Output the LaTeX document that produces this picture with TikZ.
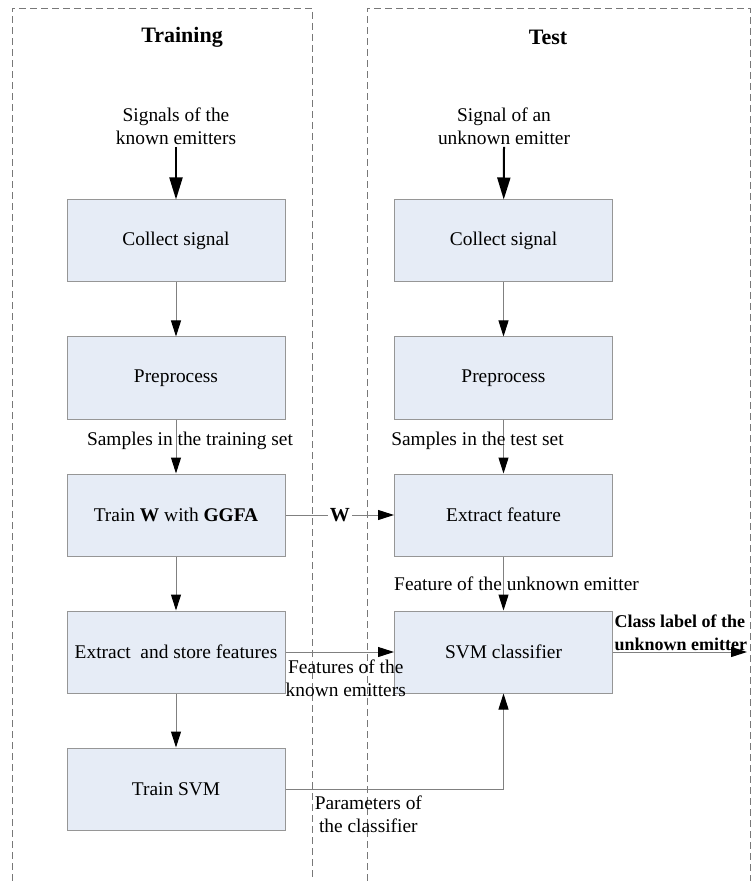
\documentclass[tikz,border=0pt]{standalone}
\usepackage{fontspec}
\setmainfont{Liberation Serif}
\usetikzlibrary{arrows.meta}
\usepackage{xcolor}
\definecolor{boxfill}{RGB}{230,236,246}
\definecolor{boxline}{RGB}{150,150,150}
\definecolor{frameline}{RGB}{120,120,120}
\tikzstyle{stepbox} = [rectangle, minimum width=109pt, minimum height=41pt, text centered, draw=boxline, fill=boxfill, line width=0.5pt]
\tikzstyle{frame} = [draw=frameline, line width=0.4pt, dash pattern=on 3.5pt off 2pt]
\tikzstyle{line} = [draw=gray, line width=0.5pt, -{Triangle[length=8pt,width=5pt,color=black]}]
\tikzstyle{inarrow} = [line width=1pt, -{Triangle[length=11pt,width=6.5pt]}]
\tikzstyle{title} = [font=\fontsize{11}{13}\selectfont\bfseries]

\begin{document}
\begin{tikzpicture}[x=0.5pt, y=-0.5pt, node distance=68.5pt, font=\fontsize{9.7}{11.5}\selectfont]
	\useasboundingbox (0,0) rectangle (751,881);
	%panels
	\draw [frame] (12,881) -- (12,8) -- (312,8) -- (312,881);
	\draw [frame] (367,881) -- (367,8) -- (750,8) -- (750,881);
	\node (ttrain) [title] at (182,37) {Training};
	\node (ttest) [title] at (548,37) {Test};
	\node (sig1) [align=center, inner sep=1pt] at (176,126) {Signals of the\\known emitters};
	\node (sig2) [align=center, inner sep=1pt] at (504,126) {Signal of an\\unknown emitter};
	\node (cs1) [stepbox] at (176,241) {Collect signal};
	\node (pp1) [stepbox, below of=cs1] {Preprocess};
	\node (tw1) [stepbox, below of=pp1] {Train \textbf{W} with \textbf{GGFA}};
	\node (es1) [stepbox, below of=tw1] {Extract\ \ and store features};
	\node (ts1) [stepbox, below of=es1] {Train SVM};
	\node (cs2) [stepbox, right of=cs1, xshift=95.25pt] {Collect signal};
	\node (pp2) [stepbox, below of=cs2] {Preprocess};
	\node (ef2) [stepbox, below of=pp2] {Extract feature};
	\node (svm2) [stepbox, below of=ef2] {SVM classifier};
	\coordinate (out) at (747,652);
	%lines
	\draw [inarrow] (sig1.south) -- (cs1);
	\draw [inarrow] (sig2.south) -- (cs2);
	\draw [line] (cs1) -- (pp1);
	\draw [line] (pp1) -- node[xshift=7pt, yshift=2.75pt] {Samples in the training set} (tw1);
	\draw [line] (tw1) -- (es1);
	\draw [line] (es1) -- (ts1);
	\draw [line] (cs2) -- (pp2);
	\draw [line] (pp2) -- node[xshift=-13pt, yshift=2.75pt] {Samples in the test set} (ef2);
	\draw [line] (ef2) -- node[xshift=6.5pt] {Feature of the unknown emitter} (svm2);
	\draw [line] (tw1) -- node[fill=white, inner sep=1pt, font=\bfseries] {W} (ef2);
	\draw [line] (es1) -- node[below, align=center, xshift=3pt, yshift=-2.5pt, inner sep=1pt] {Features of the\\known emitters} (svm2);
	\draw [line] (ts1) -| node[below, pos=0.19, align=center] {Parameters of\\the classifier} (svm2);
	\draw [line] (svm2) -- node[pos=0, anchor=south west, align=left, inner sep=0.5pt, font=\fontsize{9}{11.5}\selectfont\bfseries] {Class label of the\\unknown emitter} (out);
\end{tikzpicture}
\end{document}
